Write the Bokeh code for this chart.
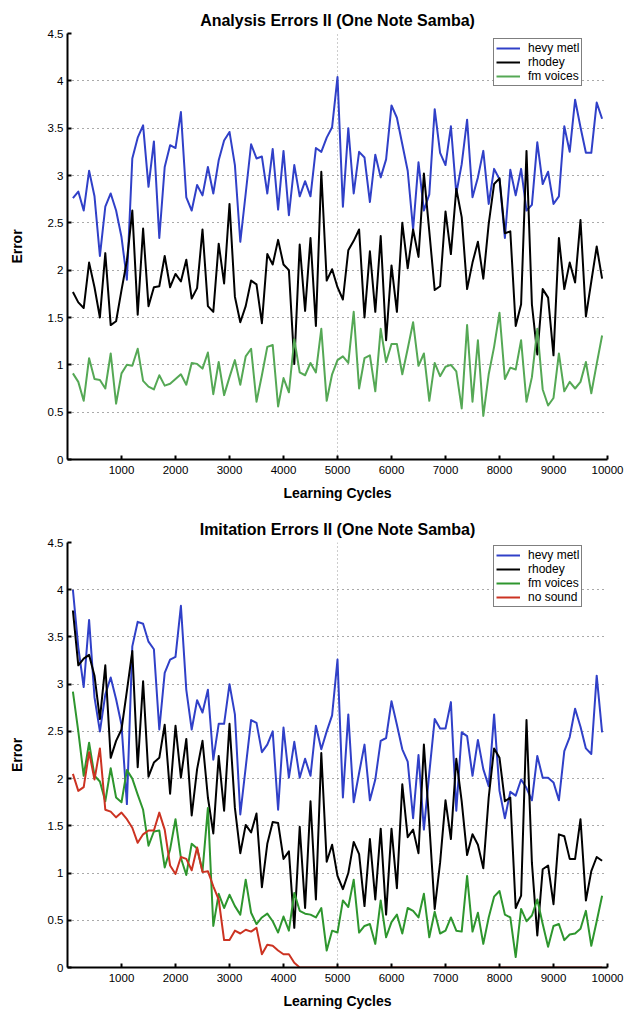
from bokeh.plotting import figure
from bokeh.layouts import column
from bokeh.models import (Range1d, FixedTicker, CustomJSTickFormatter, Legend,
                          LegendItem)
from bokeh.embed import file_html
from bokeh.resources import INLINE

FONT = "Liberation Sans"

cycles = list(range(100, 10000, 100))
x_ticks = [1000, 2000, 3000, 4000, 5000, 6000, 7000, 8000, 9000, 10000]
y_ticks = [0, 0.5, 1, 1.5, 2, 2.5, 3, 3.5, 4, 4.5]

# ---- Analysis Errors II ----
a_hevy_metl = [
    2.76, 2.83, 2.63, 3.05, 2.78, 2.15, 2.67, 2.81, 2.63, 2.35,
    1.90, 3.18, 3.40, 3.53, 2.88, 3.36, 2.34, 3.09, 3.32, 3.29,
    3.67, 2.77, 2.63, 2.90, 2.79, 3.09, 2.81, 3.16, 3.37, 3.46,
    3.11, 2.30, 2.81, 3.33, 3.18, 3.20, 2.81, 3.28, 2.64, 3.26,
    2.58, 3.11, 2.78, 2.94, 2.78, 3.29, 3.25, 3.40, 3.51, 4.04,
    2.67, 3.50, 2.81, 3.25, 3.19, 2.72, 3.22, 2.98, 3.17, 3.74,
    3.61, 3.33, 3.05, 2.43, 3.14, 2.63, 2.80, 3.70, 3.24, 3.11,
    3.52, 2.81, 3.12, 3.59, 2.77, 2.98, 3.26, 2.70, 3.07, 2.96,
    2.34, 3.06, 2.79, 3.07, 2.63, 2.69, 3.35, 2.91, 3.04, 2.70,
    2.78, 3.52, 3.25, 3.80, 3.51, 3.24, 3.24, 3.77, 3.60]
a_rhodey = [
    1.77, 1.66, 1.60, 2.08, 1.82, 1.50, 2.18, 1.42, 1.46, 1.79,
    2.10, 2.63, 1.53, 2.44, 1.62, 1.82, 1.83, 2.15, 1.82, 1.96,
    1.88, 2.11, 1.70, 1.81, 2.43, 1.62, 1.56, 2.28, 1.86, 2.70,
    1.72, 1.45, 1.62, 1.89, 1.85, 1.44, 2.17, 2.06, 2.32, 2.06,
    2.00, 1.01, 2.27, 1.57, 2.34, 1.41, 3.04, 1.89, 2.01, 1.82,
    1.69, 2.21, 2.31, 2.43, 1.50, 2.20, 1.56, 2.36, 1.26, 2.05,
    1.56, 2.50, 2.02, 2.43, 2.14, 3.02, 2.41, 1.79, 1.83, 2.62,
    2.17, 2.86, 2.56, 1.80, 2.08, 2.30, 1.91, 2.49, 2.91, 2.97,
    2.39, 2.41, 1.41, 1.64, 3.26, 1.64, 1.11, 1.80, 1.71, 1.10,
    2.34, 1.80, 2.08, 1.87, 2.53, 1.51, 1.88, 2.25, 1.91]
a_fm_voices = [
    0.91, 0.82, 0.62, 1.07, 0.85, 0.84, 0.75, 1.12, 0.59, 0.91,
    1.00, 0.99, 1.17, 0.83, 0.77, 0.74, 0.89, 0.78, 0.80, 0.85,
    0.90, 0.79, 1.02, 1.01, 0.96, 1.13, 0.69, 1.03, 0.68, 0.87,
    1.05, 0.79, 1.09, 1.17, 0.61, 0.89, 1.19, 1.21, 0.56, 0.86,
    0.71, 1.27, 0.92, 0.89, 1.02, 0.92, 1.38, 0.62, 0.90, 1.05,
    1.09, 1.02, 1.56, 0.75, 1.07, 1.10, 0.72, 1.38, 1.03, 1.22,
    1.22, 0.90, 1.17, 1.45, 0.99, 1.12, 0.62, 1.02, 0.88, 0.98,
    1.00, 0.93, 0.54, 1.42, 0.61, 1.26, 0.46, 0.90, 1.19, 1.55,
    0.85, 0.97, 0.95, 1.26, 0.61, 0.87, 1.38, 0.74, 0.57, 0.65,
    1.12, 0.72, 0.82, 0.75, 0.82, 1.03, 0.70, 1.01, 1.31]

# ---- Imitation Errors II ----
i_hevy_metl = [
    4.00, 3.39, 2.97, 3.68, 2.86, 2.50, 2.89, 3.07, 2.84, 2.57,
    1.73, 3.40, 3.66, 3.64, 3.45, 3.37, 2.52, 3.12, 3.26, 3.29,
    3.83, 2.94, 2.52, 2.83, 2.70, 2.94, 2.20, 2.58, 2.58, 3.00,
    2.68, 1.62, 2.12, 2.62, 2.59, 2.28, 2.36, 2.50, 1.67, 2.54,
    2.01, 2.39, 2.01, 2.21, 2.03, 2.56, 2.31, 2.50, 2.67, 3.26,
    1.80, 2.68, 1.75, 2.06, 2.36, 1.77, 1.99, 2.40, 2.43, 2.82,
    2.57, 2.31, 2.18, 1.58, 2.25, 1.46, 2.06, 2.63, 2.53, 2.53,
    2.81, 1.66, 2.49, 2.45, 2.03, 2.41, 2.10, 1.92, 2.68, 1.87,
    1.58, 1.86, 1.82, 1.99, 1.90, 1.77, 2.24, 2.01, 2.01, 1.96,
    1.77, 2.29, 2.44, 2.74, 2.55, 2.32, 2.26, 3.09, 2.49]
i_rhodey = [
    3.78, 3.20, 3.27, 3.31, 3.09, 2.63, 3.20, 2.22, 2.40, 2.52,
    2.93, 3.35, 2.12, 3.03, 2.02, 2.17, 2.22, 2.57, 1.84, 2.56,
    2.01, 2.42, 1.61, 2.10, 2.40, 1.80, 1.42, 2.24, 1.66, 2.58,
    1.69, 1.21, 1.51, 1.43, 1.63, 0.85, 1.31, 1.54, 1.53, 1.15,
    1.23, 0.42, 1.49, 0.63, 1.76, 0.72, 2.27, 1.12, 1.30, 0.97,
    0.83, 1.00, 1.33, 1.20, 0.65, 1.36, 0.72, 1.47, 0.56, 1.47,
    0.84, 1.94, 1.38, 1.46, 1.21, 2.36, 1.52, 0.62, 1.11, 1.77,
    1.36, 2.21, 1.76, 1.19, 1.41, 1.30, 1.05, 1.80, 2.32, 2.22,
    1.76, 1.80, 0.63, 0.76, 2.62, 1.11, 0.34, 1.04, 1.08, 0.67,
    1.41, 1.39, 1.15, 1.15, 1.57, 0.71, 1.02, 1.17, 1.13]
i_fm_voices = [
    2.92, 2.50, 2.03, 2.38, 2.03, 1.97, 1.76, 2.11, 1.80, 1.75,
    2.09, 2.00, 1.83, 1.67, 1.29, 1.44, 1.45, 1.06, 1.25, 1.57,
    1.16, 0.98, 1.31, 1.26, 1.02, 1.69, 0.44, 0.78, 0.63, 0.77,
    0.65, 0.56, 0.93, 0.58, 0.46, 0.53, 0.57, 0.49, 0.37, 0.54,
    0.39, 0.79, 0.60, 0.57, 0.56, 0.53, 0.63, 0.18, 0.39, 0.37,
    0.71, 0.64, 0.93, 0.37, 0.44, 0.46, 0.25, 0.71, 0.32, 0.48,
    0.56, 0.36, 0.63, 0.60, 0.53, 0.78, 0.32, 0.59, 0.36, 0.39,
    0.53, 0.39, 0.38, 0.97, 0.38, 0.58, 0.25, 0.53, 0.75, 0.81,
    0.56, 0.53, 0.11, 0.62, 0.49, 0.55, 0.72, 0.46, 0.22, 0.44,
    0.46, 0.29, 0.35, 0.36, 0.41, 0.60, 0.23, 0.49, 0.76]
i_no_sound = [
    2.05, 1.87, 1.91, 2.28, 1.99, 2.32, 1.67, 1.65, 1.59, 1.64,
    1.57, 1.48, 1.32, 1.41, 1.45, 1.45, 1.64, 1.46, 1.08, 0.99,
    1.17, 1.15, 1.03, 1.27, 1.01, 1.02, 0.86, 0.72, 0.29, 0.29,
    0.39, 0.36, 0.40, 0.38, 0.42, 0.14, 0.24, 0.23, 0.18, 0.14,
    0.14, 0.05, 0.00, 0.00, 0.00, 0.00, 0.00, 0.00, 0.00, 0.00,
    0.00, 0.00, 0.00, 0.00, 0.00, 0.00, 0.00, 0.00, 0.00, 0.00,
    0.00, 0.00, 0.00, 0.00, 0.00, 0.00, 0.00, 0.00, 0.00, 0.00,
    0.00, 0.00, 0.00, 0.00, 0.00, 0.00, 0.00, 0.00, 0.00, 0.00,
    0.00, 0.00, 0.00, 0.00, 0.00, 0.00, 0.00, 0.00, 0.00, 0.00,
    0.00, 0.00, 0.00, 0.00, 0.00, 0.00, 0.00, 0.00, 0.00]

BLUE = "#3040c8"
BLACK = "#000000"
GREEN_A = "#55a855"
GREEN_I = "#2e962e"
RED = "#cc3322"


def make_panel(title, series, border_top, border_bottom, legend_loc):
    p = figure(width=624, height=507, x_range=Range1d(0, 10000),
               y_range=Range1d(0, 4.5), output_backend="svg",
               toolbar_location=None, min_border_left=67,
               min_border_right=17, min_border_top=border_top,
               min_border_bottom=border_bottom)
    p.outline_line_color = None
    p.background_fill_color = "white"
    p.border_fill_color = "white"

    p.title.text = title
    p.title.align = "center"
    p.title.text_font = FONT
    p.title.text_font_size = "16px"
    p.title.text_font_style = "bold"
    p.title.text_color = "black"
    p.title.standoff = 9

    for ax in (p.xaxis, p.yaxis):
        ax.axis_line_width = 2
        ax.axis_line_color = "black"
        ax.major_tick_line_width = 2
        ax.major_tick_in = 4
        ax.major_tick_out = 0
        ax.minor_tick_line_color = None
        ax.major_label_text_font = FONT
        ax.major_label_text_font_size = "11.5px"
        ax.major_label_text_color = "black"
        ax.axis_label_text_font = FONT
        ax.axis_label_text_font_size = "14px"
        ax.axis_label_text_font_style = "bold"
        ax.axis_label_text_color = "black"

    p.xaxis.ticker = FixedTicker(ticks=x_ticks)
    p.xaxis.axis_label = "Learning Cycles"
    p.xaxis.major_label_standoff = 6
    p.xaxis.axis_label_standoff = 8

    p.yaxis.ticker = FixedTicker(ticks=y_ticks)
    p.yaxis.formatter = CustomJSTickFormatter(code="return String(tick);")
    p.yaxis.axis_label = "Error"
    p.yaxis.major_label_standoff = 4
    p.yaxis.axis_label_standoff = 20

    p.xgrid.ticker = FixedTicker(ticks=[5000])
    p.xgrid.grid_line_color = "#9a9a9a"
    p.xgrid.grid_line_dash = "1 3"
    p.xgrid.grid_line_width = 1
    p.ygrid.ticker = FixedTicker(ticks=y_ticks)
    p.ygrid.grid_line_color = "#555555"
    p.ygrid.grid_line_dash = "1 4"
    p.ygrid.grid_line_width = 1

    items = []
    for label, vals, color in series:
        r = p.line(cycles, vals, line_color=color, line_width=2,
                   line_join="round")
        items.append(LegendItem(label=label, renderers=[r]))

    legend = Legend(items=items, location=legend_loc)
    legend.margin = 0
    legend.padding = 2
    legend.spacing = 0
    legend.label_height = 12
    legend.glyph_height = 12
    legend.glyph_width = 24
    legend.label_standoff = 8
    legend.label_text_font = FONT
    legend.label_text_font_size = "12px"
    legend.label_text_color = "black"
    legend.border_line_color = "black"
    legend.border_line_width = 1
    legend.background_fill_color = "white"
    legend.background_fill_alpha = 1.0
    p.add_layout(legend)
    return p


p1 = make_panel("Analysis Errors II (One Note Samba)",
                [("hevy metl", a_hevy_metl, BLUE),
                 ("rhodey", a_rhodey, BLACK),
                 ("fm voices", a_fm_voices, GREEN_A)],
                33, 48, (426, 373))
p2 = make_panel("Imitation Errors II (One Note Samba)",
                [("hevy metl", i_hevy_metl, BLUE),
                 ("rhodey", i_rhodey, BLACK),
                 ("fm voices", i_fm_voices, GREEN_I),
                 ("no sound", i_no_sound, RED)],
                35, 47, (426, 360))

layout = column(p1, p2, spacing=0)
open("out.html", "w").write(file_html(layout, INLINE))
